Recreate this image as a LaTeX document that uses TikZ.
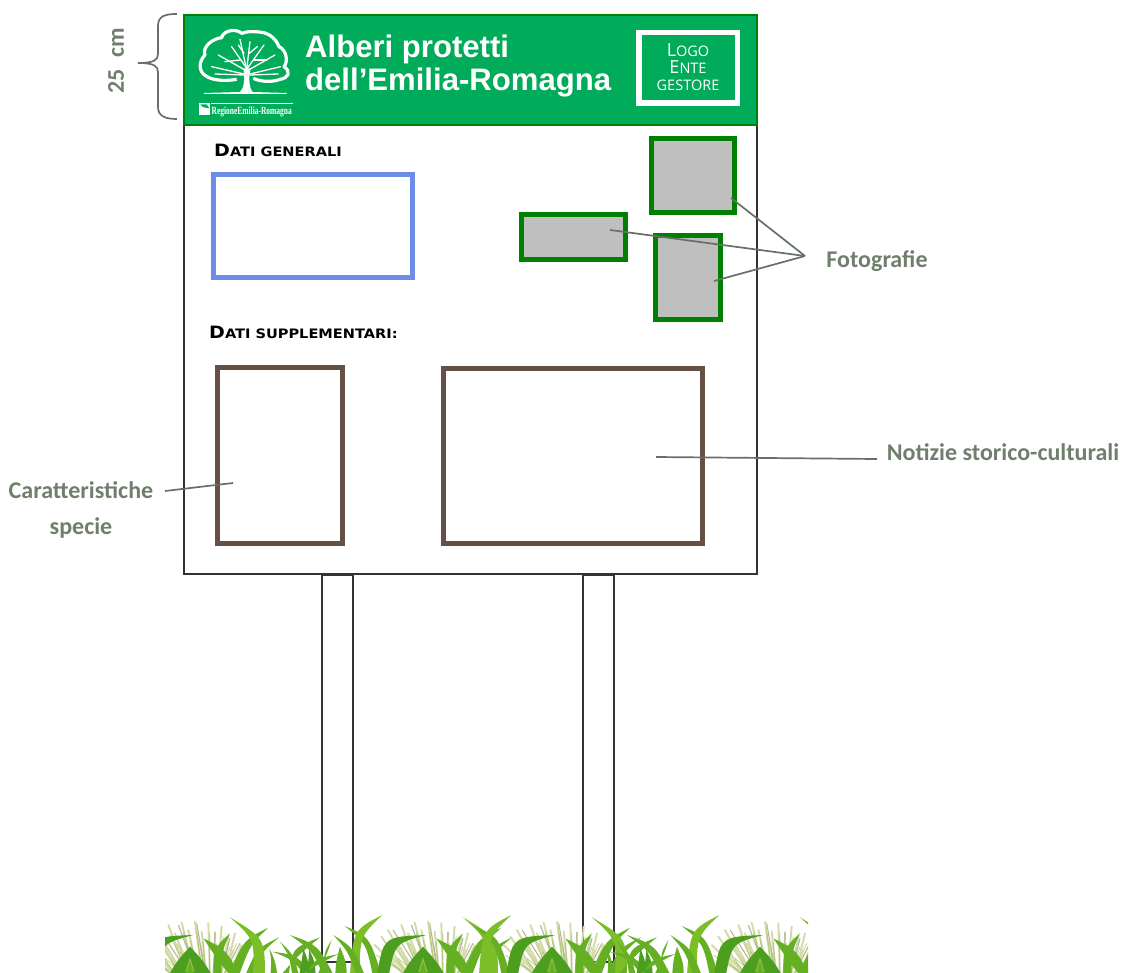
\documentclass[tikz,border=0pt]{standalone}
\usepackage{fontspec}
\setmainfont{Liberation Sans}
\newfontfamily\labelfont{Carlito}
\newfontfamily\logofont{Open Sans}
\newfontfamily\regfont{Liberation Serif}
\newfontfamily\headfont{DejaVu Sans}
\definecolor{headgreen}{HTML}{00AB5A}
\definecolor{edgegreen}{HTML}{008000}
\definecolor{photogray}{HTML}{BFBFBF}
\definecolor{bluebox}{HTML}{6C8CE8}
\definecolor{brownbox}{HTML}{645044}
\definecolor{framecol}{HTML}{333333}
\definecolor{leadcol}{HTML}{667066}
\definecolor{labelcol}{HTML}{6F7F6C}
\definecolor{gr1}{HTML}{64B022}
\definecolor{gr2}{HTML}{4C9F1E}
\definecolor{gr3}{HTML}{7CBE28}
\definecolor{hay}{HTML}{D3DAA6}
\definecolor{hay2}{HTML}{B4B698}
\definecolor{hay3}{HTML}{9DB84A}
\tikzset{
  panel/.style={draw=framecol,line width=2pt,fill=white},
  postbox/.style={draw=framecol,line width=2pt,fill=white},
  photo/.style={draw=edgegreen,line width=5.4pt,fill=photogray},
  infoblue/.style={draw=bluebox,line width=5pt},
  infobrown/.style={draw=brownbox,line width=5pt},
  leader/.style={draw=leadcol,line width=1.7pt},
  callout/.style={font=\labelfont\bfseries\fontsize{24}{26}\selectfont,text=labelcol,align=center},
  heading/.style={font=\headfont\bfseries,text=black,anchor=west,xscale=1.12},
  branch/.style={draw=white,line width=1.3pt,line cap=round},
}
% a blade: tip, control near the outer edge, two base points, control near the inner edge
\newcommand{\bl}[9]{\fill[#1] (#2,#3) .. controls (#4,#5) and (#4,#5) .. (#6,300) -- (#7,300) .. controls (#8,#9) and (#8,#9) .. (#2,#3) -- cycle;}
\newcommand{\grassunit}{%
  \foreach \a/\b in {-25/195,-5/170,15/150,35/175,55/135,75/160,95/128,115/150,135/125,155/155,175/130,195/160,215/140,235/170,255/160,275/195,0/210,40/205,85/185,150/190,200/195,250/210}{
    \draw[hay,line width=1.9pt,line cap=round] (120+\a*.55-66*.55,290) -- (\a,\b);
    \draw[hay3,opacity=.55,line width=1pt] (120+\a*.5-60*.5,290) -- (\a+5,\b+30);
  }
  \foreach \a/\b in {30/150,85/135,140/130,195/155,240/175,270/190}{
    \draw[hay2,line width=1.1pt] (120+\a*.6-72*.6,250) -- (\a,\b);
  }
  % outer arcs to the left
  \bl{gr1}{-115}{138}{-40}{170}{0}{-28}{-50}{190}
  \bl{gr3}{-2}{105}{-90}{150}{-100}{-70}{-70}{170}
  % inner left arc
  \bl{gr2}{130}{165}{0}{170}{-20}{15}{35}{190}
  \bl{gr1}{160}{175}{230}{210}{275}{250}{200}{235}
  \bl{gr1}{240}{160}{190}{205}{190}{215}{215}{215}
  % triangle clump
  \fill[gr2] (120,200) .. controls (150,232) and (172,255) .. (192,300) -- (50,300) .. controls (70,255) and (90,232) .. (120,200) -- cycle;
  \fill[hay3] (120,232) -- (106,276) -- (134,276) -- cycle;
  \bl{gr1}{120}{245}{112}{265}{108}{134}{128}{265}
  % right arcs
  \bl{gr1}{355}{143}{280}{180}{230}{262}{300}{195}
  \bl{gr1}{388}{172}{320}{205}{280}{300}{335}{215}
  \bl{gr3}{240}{112}{345}{175}{345}{308}{315}{180}
}
\newcommand{\grasscluster}{%
  \bl{gr1}{358}{205}{375}{240}{385}{360}{365}{240}
  \bl{gr1}{390}{185}{432}{225}{450}{428}{420}{230}
  \bl{gr1}{368}{215}{440}{225}{505}{475}{430}{240}
  \bl{gr1}{510}{172}{425}{205}{415}{380}{445}{225}
  \bl{gr1}{420}{165}{505}{195}{558}{525}{490}{215}
  \bl{gr2}{460}{205}{476}{245}{478}{445}{455}{245}
  \bl{gr2}{478}{210}{495}{245}{498}{468}{475}{245}
  \bl{gr1}{565}{222}{490}{238}{460}{430}{500}{255}
  \bl{gr1}{545}{180}{520}{220}{525}{495}{530}{225}
  \bl{gr1}{570}{200}{590}{250}{590}{555}{558}{245}
  \bl{gr1}{550}{165}{612}{205}{650}{625}{595}{215}
}
\begin{document}
\begin{tikzpicture}[x=1pt,y=-1pt]
\useasboundingbox (0,0) rectangle (1124,972);
% posts
\node[postbox,minimum width=31pt,minimum height=387pt,inner sep=0pt] (postL) at (337.5,768.5) {};
\node[postbox,minimum width=31pt,minimum height=387pt,inner sep=0pt] (postR) at (598.5,768.5) {};
% panel
\node[panel,minimum width=573pt,minimum height=449pt,inner sep=0pt] (panel) at (470.5,349.5) {};
\node[draw=edgegreen,line width=2pt,fill=headgreen,minimum width=573pt,minimum height=110pt,inner sep=0pt] (header) at (470.5,70) {};
% tree logo
\begin{scope}[shift={(90,0)},x=0.3333pt,y=-0.3333pt]
  \draw[white,line width=3.2pt,line join=round,fill=none]
    (440,238) .. controls (400,245) and (365,240) .. (348,228)
    .. controls (325,215) and (325,185) .. (345,165)
    .. controls (335,140) and (370,115) .. (395,113)
    .. controls (400,90) and (440,85) .. (455,100)
    .. controls (475,92) and (500,95) .. (515,97)
    .. controls (540,100) and (560,120) .. (567,140)
    .. controls (590,150) and (595,185) .. (582,200)
    .. controls (605,215) and (595,235) .. (570,238)
    .. controls (545,248) and (510,245) .. (490,235);
  \fill[white] (342,282) -- (590,282) -- (590,279) -- (488,276) .. controls (478,265) and (475,235) .. (482,205)
    -- (460,205) .. controls (465,240) and (462,265) .. (450,276) -- (342,279) -- cycle;
  \foreach \xa/\ya/\xb/\yb in {470/210/450/118,470/210/480/125,470/205/425/140,472/205/522/135,465/210/385/165,476/210/555/165,462/222/365/200,480/222/572/200,462/225/375/222,480/225/565/222,450/180/405/185,492/180/530/180,462/160/445/135,478/160/502/140}{
    \draw[branch] (\xa,\ya) -- (\xb,\yb);
  }
  \fill[white] (327,309) rectangle (360,345);
  \fill[headgreen] (331,313) -- (350,313) -- (358,325) -- (340,322) -- cycle;
  \fill[white] (364,309) rectangle (608,312);
\end{scope}
\node[inner sep=0pt,anchor=west,text=white,font=\regfont\bfseries\fontsize{11}{12}\selectfont,xscale=.68] (reg) at (211.5,112) {RegioneEmilia-Romagna};
% title
\node[inner sep=0pt,anchor=west,text=white,align=left,font=\bfseries\fontsize{31.1}{33}\selectfont] (title) at (305,66.5) {Alberi protetti\\dell’Emilia-Romagna};
% logo box
\node[draw=white,line width=5.5pt,minimum width=98.5pt,minimum height=70.5pt,inner sep=0pt,align=center,text=white,font=\logofont\fontsize{14.5}{17}\selectfont] (logo) at (688,67.5)
  {{\fontsize{18}{17}\selectfont L}OGO\\{\fontsize{18}{17}\selectfont E}NTE\\GESTORE};
% headings
\node[heading,inner sep=0pt] (h1) at (214,150) {\fontsize{17}{20}\selectfont D\fontsize{13}{20}\selectfont ATI GENERALI};
\node[heading,inner sep=0pt] (h2) at (209,332) {\fontsize{17}{20}\selectfont D\fontsize{13}{20}\selectfont ATI SUPPLEMENTARI:};
% info boxes
\node[infoblue,minimum width=199pt,minimum height=103pt,inner sep=0pt] (bluerect) at (313,226) {};
\node[infobrown,minimum width=125pt,minimum height=176pt,inner sep=0pt] (specie) at (280,455.5) {};
\node[infobrown,minimum width=259pt,minimum height=175pt,inner sep=0pt] (storia) at (573,456) {};
% photos
\node[photo,minimum width=83pt,minimum height=74pt,inner sep=0pt] (ph1) at (693,175.5) {};
\node[photo,minimum width=104pt,minimum height=45pt,inner sep=0pt] (ph2) at (573.5,237) {};
\node[photo,minimum width=65pt,minimum height=84pt,inner sep=0pt] (ph3) at (688,277.5) {};
% labels
\node[callout,inner sep=0pt] (fot) at (877,261.5) {Fotografie};
\node[callout,inner sep=0pt] (not) at (1003,452) {Notizie storico-culturali};
\node[callout,inner sep=0pt,font=\labelfont\bfseries\fontsize{24}{35.5}\selectfont] (car) at (81,510) {Caratteristiche\\specie};
\node[inner sep=0pt,rotate=90,text=labelcol,font=\labelfont\bfseries\fontsize{24}{24}\selectfont] (cm) at (116,61) {25\hspace{12pt}cm};
% leaders
\coordinate (hub) at (805,256);
\coordinate (a1) at (731,198);
\coordinate (a2) at (610,230);
\coordinate (a3) at (714,281);
\coordinate (a4) at (656,457);
\coordinate (a5) at (877,459);
\coordinate (a6) at (233,483);
\coordinate (a7) at (165,491);
\draw[leader] (a1) -- (hub);
\draw[leader] (a2) -- (hub);
\draw[leader] (a3) -- (hub);
\draw[leader] (a4) -- (a5);
\draw[leader] (a6) -- (a7);
% brace
\coordinate (bt) at (177,14);
\coordinate (bb) at (177,119);
\coordinate (bm) at (138,63);
\draw[leader] (bt) .. controls (165,14) and (158,16) .. (158,26) -- (158,54)
  .. controls (158,60) and (154,63) .. (bm) .. controls (154,63) and (158,66) .. (158,72)
  -- (158,107) .. controls (158,116) and (165,119) .. (bb);
% grass
\begin{scope}
  \clip (165,880) rectangle (808,972);
  \foreach \s in {150,383,512,720}{
    \begin{scope}[shift={(\s,880)},x=0.3333pt,y=-0.3333pt]
      \grassunit
    \end{scope}
  }
  \foreach \s in {150,487}{
    \begin{scope}[shift={(\s,880)},x=0.3333pt,y=-0.3333pt]
      \grasscluster
    \end{scope}
  }
\end{scope}
\end{tikzpicture}
\end{document}
